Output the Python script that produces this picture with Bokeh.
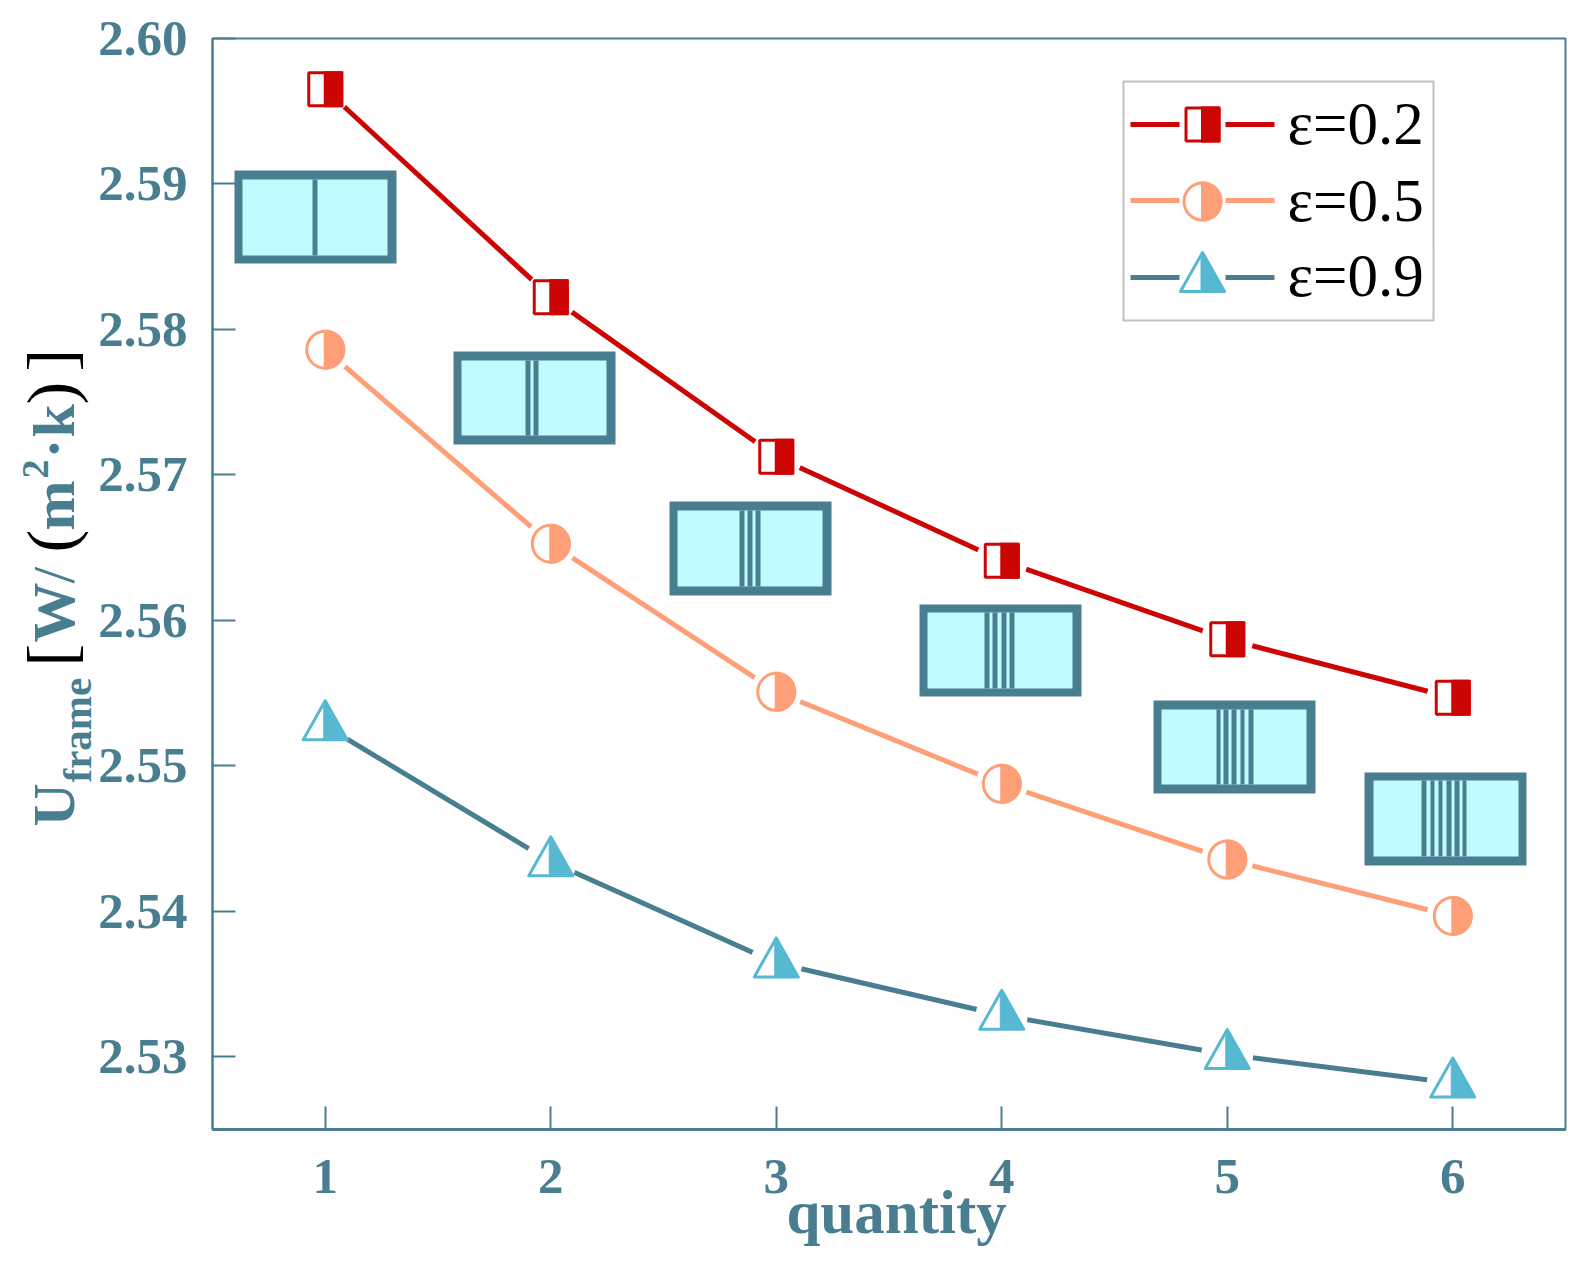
import math
from bokeh.plotting import figure
from bokeh.layouts import row
from bokeh.models import Range1d, FixedTicker
from bokeh.core.properties import value
from bokeh.embed import file_html
from bokeh.resources import INLINE

quantity = [1, 2, 3, 4, 5, 6]
eps_02 = [2.59651, 2.58222, 2.57125, 2.56410, 2.55870, 2.55468]
eps_05 = [2.57861, 2.56527, 2.55509, 2.54876, 2.54356, 2.53968]
eps_09 = [2.55275, 2.54340, 2.53645, 2.53285, 2.53015, 2.52820]
y_ticks = [2.53, 2.54, 2.55, 2.56, 2.57, 2.58, 2.59, 2.60]
y_tick_labels = ["2.53", "2.54", "2.55", "2.56", "2.57", "2.58", "2.59", "2.60"]
legend_names = ["ε=0.2", "ε=0.5", "ε=0.9"]
x_title = "quantity"

RED, ORANGE, TEAL, CYAN, GLASS = "#CC0404", "#FF9F78", "#487E90", "#57B8D2", "#C0FBFF"
SERIF = "Liberation Serif"
BASE = 0.365  # shift from the drawn anchor to the text's real baseline, in em

# frame geometry, in page pixels
PAGE_W, PAGE_H, SIDE_W = 1582, 1265, 94
FX0, FX1, FY0, FY1 = 212, 1565, 38, 1129
XMIN, XMAX, YMIN, YMAX = 0.5, 6.5, 2.525, 2.60
PPX = (FX1 - FX0) / (XMAX - XMIN)
PPY = (FY1 - FY0) / (YMAX - YMIN)
def px(x): return XMIN + (x - FX0) / PPX
def py(y): return YMAX - (y - FY0) / PPY

p = figure(width=PAGE_W - SIDE_W, height=PAGE_H, output_backend="svg", toolbar_location=None,
           x_range=Range1d(XMIN, XMAX), y_range=Range1d(YMIN, YMAX),
           min_border_left=FX0 - SIDE_W, min_border_right=PAGE_W - FX1,
           min_border_top=FY0, min_border_bottom=PAGE_H - FY1)
p.grid.visible = False
p.outline_line_color = TEAL
p.outline_line_width = 2

p.xaxis.ticker = FixedTicker(ticks=quantity)
p.xaxis.major_label_overrides = {q: str(q) for q in quantity}
p.yaxis.ticker = FixedTicker(ticks=y_ticks)
p.yaxis.major_label_overrides = dict(zip(y_ticks, y_tick_labels))
for ax, standoff in ((p.xaxis, 30), (p.yaxis, 25)):
    ax.axis_line_color = TEAL
    ax.major_tick_line_color = TEAL
    ax.major_tick_line_width = 2
    ax.major_tick_in = 23
    ax.major_tick_out = 0
    ax.minor_tick_line_color = None
    ax.major_label_standoff = standoff
    ax.major_label_text_color = TEAL
    ax.major_label_text_font = SERIF
    ax.major_label_text_font_style = "bold"
    ax.major_label_text_font_size = "51px"
p.xaxis.axis_line_width = 3
p.yaxis.axis_line_width = 2
p.xaxis.axis_label = "\u00a0" + x_title
p.xaxis.axis_label_text_font = SERIF
p.xaxis.axis_label_text_font_style = "bold"
p.xaxis.axis_label_text_font_size = "61px"
p.xaxis.axis_label_text_color = TEAL
p.xaxis.axis_label_standoff = -17


def marker(kind, xs, ys, color):
    """Half-filled marker, sized in pixels around data points."""
    if kind == "square":
        p.scatter(xs, ys, marker="square", size=33, fill_color="white", line_color=color, line_width=3)
        p.quad(left=[x - 1.5 / PPX for x in xs], right=[x + 18 / PPX for x in xs],
               top=[y + 18 / PPY for y in ys], bottom=[y - 18 / PPY for y in ys],
               fill_color=color, line_color=None)
    elif kind == "circle":
        p.scatter(xs, ys, marker="circle", size=37, fill_color="white", line_color=color, line_width=3)
        r = 20
        a0 = math.asin(1.5 / r)
        n = 40
        angles = [-(math.pi / 2 + a0) + 2 * (math.pi / 2 + a0) * i / n for i in range(n + 1)]
        pts = [(r * math.cos(t), r * math.sin(t)) for t in angles]
        p.patches([[x + a / PPX for a, _ in pts] for x in xs],
                  [[y - b / PPY for _, b in pts] for y in ys],
                  fill_color=color, line_color=None)
    else:
        outline = [(0, -25), (22, 14), (-22, 14)]
        half = [(-1.5, -22.3), (0, -25), (22, 14), (-1.5, 14)]
        for shape, fill in ((outline, "white"), (half, color)):
            p.patches([[x + a / PPX for a, _ in shape] for x in xs],
                      [[y - b / PPY for _, b in shape] for y in ys],
                      fill_color=fill, line_color=color, line_width=3 if fill == "white" else 1,
                      line_join="round")


series = [(eps_02, RED, RED, "square"), (eps_05, ORANGE, ORANGE, "circle"), (eps_09, TEAL, CYAN, "triangle")]
for values, line_col, mark_col, kind in series:
    p.line(quantity, values, line_color=line_col, line_width=5)
    p.scatter(quantity, values, marker="circle", size=52, fill_color="white", line_color=None)
    marker(kind, quantity, values, mark_col)

# window sketches: outer box, inner pane, mullions (page pixels)
windows = [
    ((234, 170, 396, 263), (242, 179, 387, 255), [(312, 317)]),
    ((453, 351, 615, 444), (461, 360, 606, 435), [(525, 530), (533, 538)]),
    ((669, 501, 831, 595), (677, 510, 822, 586), [(739, 744), (747, 752), (755, 760)]),
    ((919, 604, 1081, 696), (927, 612, 1072, 688), [(984, 989), (992, 997), (1001, 1006), (1009, 1014)]),
    ((1153, 700, 1315, 793), (1161, 709, 1306, 784), [(1216, 1220), (1223, 1228), (1231, 1236), (1240, 1244), (1248, 1253)]),
    ((1364, 772, 1526, 865), (1373, 780, 1518, 856), [(1421, 1426), (1430, 1434), (1438, 1442), (1446, 1451), (1454, 1459), (1462, 1466)]),
]
for outer, inner, bars in windows:
    p.quad(left=[px(outer[0])], right=[px(outer[2])], top=[py(outer[1])], bottom=[py(outer[3])],
           fill_color=TEAL, line_color=None)
    p.quad(left=[px(inner[0])], right=[px(inner[2])], top=[py(inner[1])], bottom=[py(inner[3])],
           fill_color=GLASS, line_color=None)
    p.quad(left=[px(a) for a, _ in bars], right=[px(b) for _, b in bars],
           top=[py(inner[1])] * len(bars), bottom=[py(inner[3])] * len(bars),
           fill_color=TEAL, line_color=None)

# legend box and entries
p.quad(left=[px(1123)], right=[px(1433)], top=[py(81)], bottom=[py(320)],
       fill_color="white", line_color="#C0C0C0", line_width=2)
legend_rows = [(124, 145, 124), (200, 222, 201), (277, 297, 277)]
for (values, line_col, mark_col, kind), (ly, base, my), name in zip(series, legend_rows, legend_names):
    for a, b in ((1130, 1179), (1225, 1274)):
        p.line([px(a), px(b)], [py(ly), py(ly)], line_color=line_col, line_width=5)
    marker(kind, [px(1202)], [py(my)], mark_col)
    p.text([px(1287)], [py(base - BASE * 61)], text=[name], text_font=value(SERIF), text_font_size="61px",
           text_color="black", text_baseline="alphabetic", text_align="left")

# left strip holding the composed y-axis title; a row lines its frame up with
# the main frame, so its vertical range runs over the same page pixels
side = figure(width=SIDE_W, height=PAGE_H, output_backend="svg", toolbar_location=None,
              x_range=Range1d(0, SIDE_W), y_range=Range1d(FY1, FY0),
              min_border=0, x_axis_location=None, y_axis_location=None, outline_line_color=None)
side.grid.visible = False


def vtext(x, y, s, size, color=TEAL, style="bold"):
    side.text([x - BASE * size], [y], text=[s], text_font=value(SERIF), text_font_size=f"{size}px",
              text_font_style=style, text_color=color, angle=math.pi / 2,
              text_baseline="alphabetic", text_align="left")


vtext(75, 826, "U", 60)
vtext(91, 782, "frame", 41)
vtext(75, 666, "[", 68, color="black", style="normal")
vtext(75, 642, "W", 60)
vtext(75, 583, "/", 60, style="normal")
vtext(75, 552, "(", 68, color="black", style="normal")
vtext(75, 530, "m", 60)
vtext(49, 478, "2", 38)
vtext(75, 458, "·", 60)
vtext(75, 437, "k", 60)
vtext(75, 404, ")", 68, color="black", style="normal")
vtext(75, 371, "]", 68, color="black", style="normal")

open("out.html", "w").write(file_html(row(side, p), INLINE))
